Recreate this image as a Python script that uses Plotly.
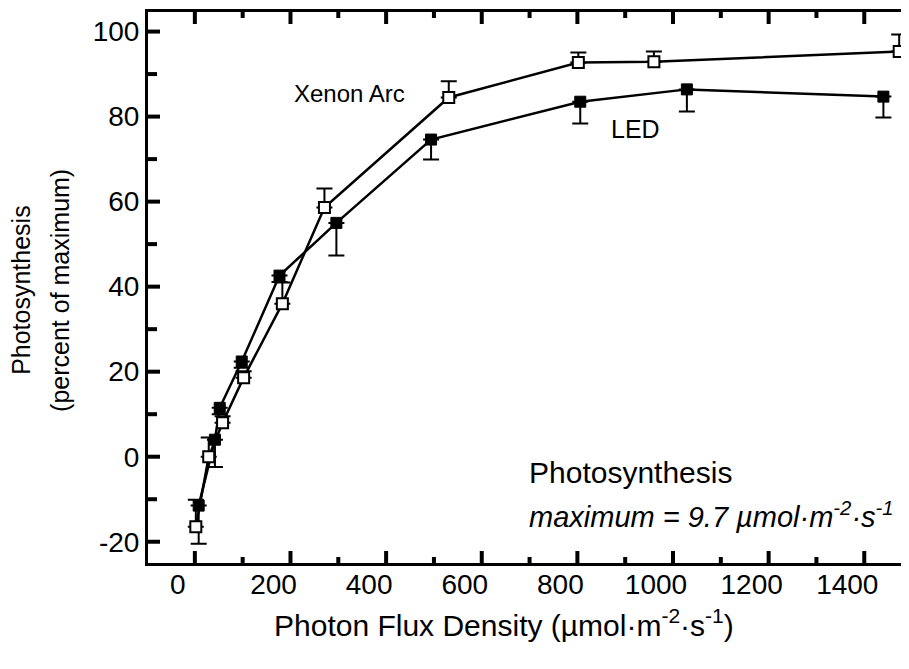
import plotly.graph_objects as go

# Photon flux density (umol m-2 s-1) and photosynthesis (% of maximum)
led_x = [8, 42, 52, 98, 177, 296, 494, 806, 1029, 1440]
led_y = [-11.5, 4.0, 11.5, 22.4, 42.6, 55.0, 74.6, 83.5, 86.4, 84.7]
led_err = [9.0, 6.4, 1.5, 1.5, 1.5, 7.7, 4.7, 5.1, 5.2, 4.9]

xenon_x = [2, 29, 58, 102, 183, 271, 531, 802, 960, 1473]
xenon_y = [-16.5, 0.0, 8.0, 18.6, 36.0, 58.6, 84.5, 92.7, 92.9, 95.3]
xenon_err = [6.4, 4.5, 1.5, 1.5, 5.0, 4.5, 3.8, 2.4, 2.4, 4.0]

x_tick_vals = [0, 200, 400, 600, 800, 1000, 1200, 1400]
x_tick_text = ["0", "200", "400", "600", "800", "1000", "1200", "1400"]
x_minor_vals = [100, 300, 500, 700, 900, 1100, 1300, 1500]
y_tick_vals = [-20, 0, 20, 40, 60, 80, 100]
y_tick_text = ["-20", "0", "20", "40", "60", "80", "100"]
y_minor_vals = [-10, 10, 30, 50, 70, 90]

FONT = "Liberation Sans, Arial, sans-serif"
BLACK = "black"

fig = go.Figure()

fig.add_trace(go.Scatter(
    x=led_x, y=led_y, mode="lines+markers", name="LED",
    line=dict(color=BLACK, width=2.5),
    marker=dict(symbol="square", size=11, color=BLACK, line=dict(color=BLACK, width=1)),
    error_y=dict(type="data", array=[0] * len(led_err), arrayminus=led_err,
                 symmetric=False, color=BLACK, thickness=2, width=8),
))

fig.add_trace(go.Scatter(
    x=xenon_x, y=xenon_y, mode="lines+markers", name="Xenon Arc",
    line=dict(color=BLACK, width=2.5),
    marker=dict(symbol="square", size=11, color="white", line=dict(color=BLACK, width=2)),
    error_y=dict(type="data", array=xenon_err, arrayminus=[0] * len(xenon_err),
                 symmetric=False, color=BLACK, thickness=2, width=8),
))

fig.update_xaxes(
    range=[-98, 1504], tickmode="array", tickvals=x_tick_vals, ticktext=x_tick_text,
    showline=True, linecolor=BLACK, linewidth=3, mirror=True, ticks="",
    ticklabelshift=-17, ticklabelstandoff=-6,
    showgrid=False, zeroline=False,
    tickfont=dict(family=FONT, size=28, color=BLACK),
)
fig.update_yaxes(
    range=[-25, 104.6], tickmode="array", tickvals=y_tick_vals, ticktext=y_tick_text,
    showline=True, linecolor=BLACK, linewidth=3, mirror=True, ticks="",
    showgrid=False, zeroline=False,
    tickfont=dict(family=FONT, size=28, color=BLACK),
)

# inward tick marks on all four sides, placed at the axis values
tick_line = dict(color=BLACK, width=4)
shapes = []
for v, ln in [(v, 12) for v in x_tick_vals] + [(v, 6) for v in x_minor_vals]:
    shapes.append(dict(type="line", xref="x", yref="paper", ysizemode="pixel", yanchor=0,
                       x0=v, x1=v, y0=0, y1=ln, line=tick_line, layer="above"))
    shapes.append(dict(type="line", xref="x", yref="paper", ysizemode="pixel", yanchor=1,
                       x0=v, x1=v, y0=0, y1=-ln, line=tick_line, layer="above"))
for v, ln in [(v, 12) for v in y_tick_vals] + [(v, 9) for v in y_minor_vals]:
    shapes.append(dict(type="line", xref="paper", yref="y", xsizemode="pixel", xanchor=0,
                       x0=0, x1=ln, y0=v, y1=v, line=tick_line, layer="above"))
    shapes.append(dict(type="line", xref="paper", yref="y", xsizemode="pixel", xanchor=1,
                       x0=0, x1=-ln, y0=v, y1=v, line=tick_line, layer="above"))

ann = []
ann.append(dict(text="Photosynthesis", x=-0.165, y=0.495, xref="paper", yref="paper",
                xanchor="center", yanchor="middle",
                textangle=-90, showarrow=False, font=dict(family=FONT, size=25, color=BLACK)))
ann.append(dict(text="(percent of maximum)", x=-0.114, y=0.495, xref="paper", yref="paper",
                xanchor="center", yanchor="middle",
                textangle=-90, showarrow=False, font=dict(family=FONT, size=25, color=BLACK)))
ann.append(dict(text="Photon Flux Density (µmol·m<sup>-2</sup>·s<sup>-1</sup>)",
                x=0.465, y=-0.108, xref="paper", yref="paper", showarrow=False,
                xanchor="center", yanchor="middle",
                font=dict(family=FONT, size=30, color=BLACK)))
ann.append(dict(text="Xenon Arc", x=323, y=85.4, xref="x", yref="y", showarrow=False,
                xanchor="center", yanchor="middle",
                font=dict(family=FONT, size=24, color=BLACK)))
ann.append(dict(text="LED", x=921, y=77, xref="x", yref="y", showarrow=False,
                xanchor="center", yanchor="middle",
                font=dict(family=FONT, size=25, color=BLACK)))
ann.append(dict(text="Photosynthesis", x=694, y=-3.8, xref="x", yref="y", showarrow=False,
                xanchor="left", yanchor="middle", font=dict(family=FONT, size=30, color=BLACK)))
ann.append(dict(text="<i>maximum = 9.7 µmol·m<sup>-2</sup>·s<sup>-1</sup></i>", x=694, y=-13.6,
                xref="x", yref="y", showarrow=False, xanchor="left", yanchor="middle",
                font=dict(family=FONT, size=29, color=BLACK)))

fig.update_layout(
    width=909, height=669,
    margin=dict(l=140, r=0, t=4, b=114),
    paper_bgcolor="white", plot_bgcolor="white",
    showlegend=False,
    annotations=ann,
    shapes=shapes,
)

fig.write_html("out.html")
